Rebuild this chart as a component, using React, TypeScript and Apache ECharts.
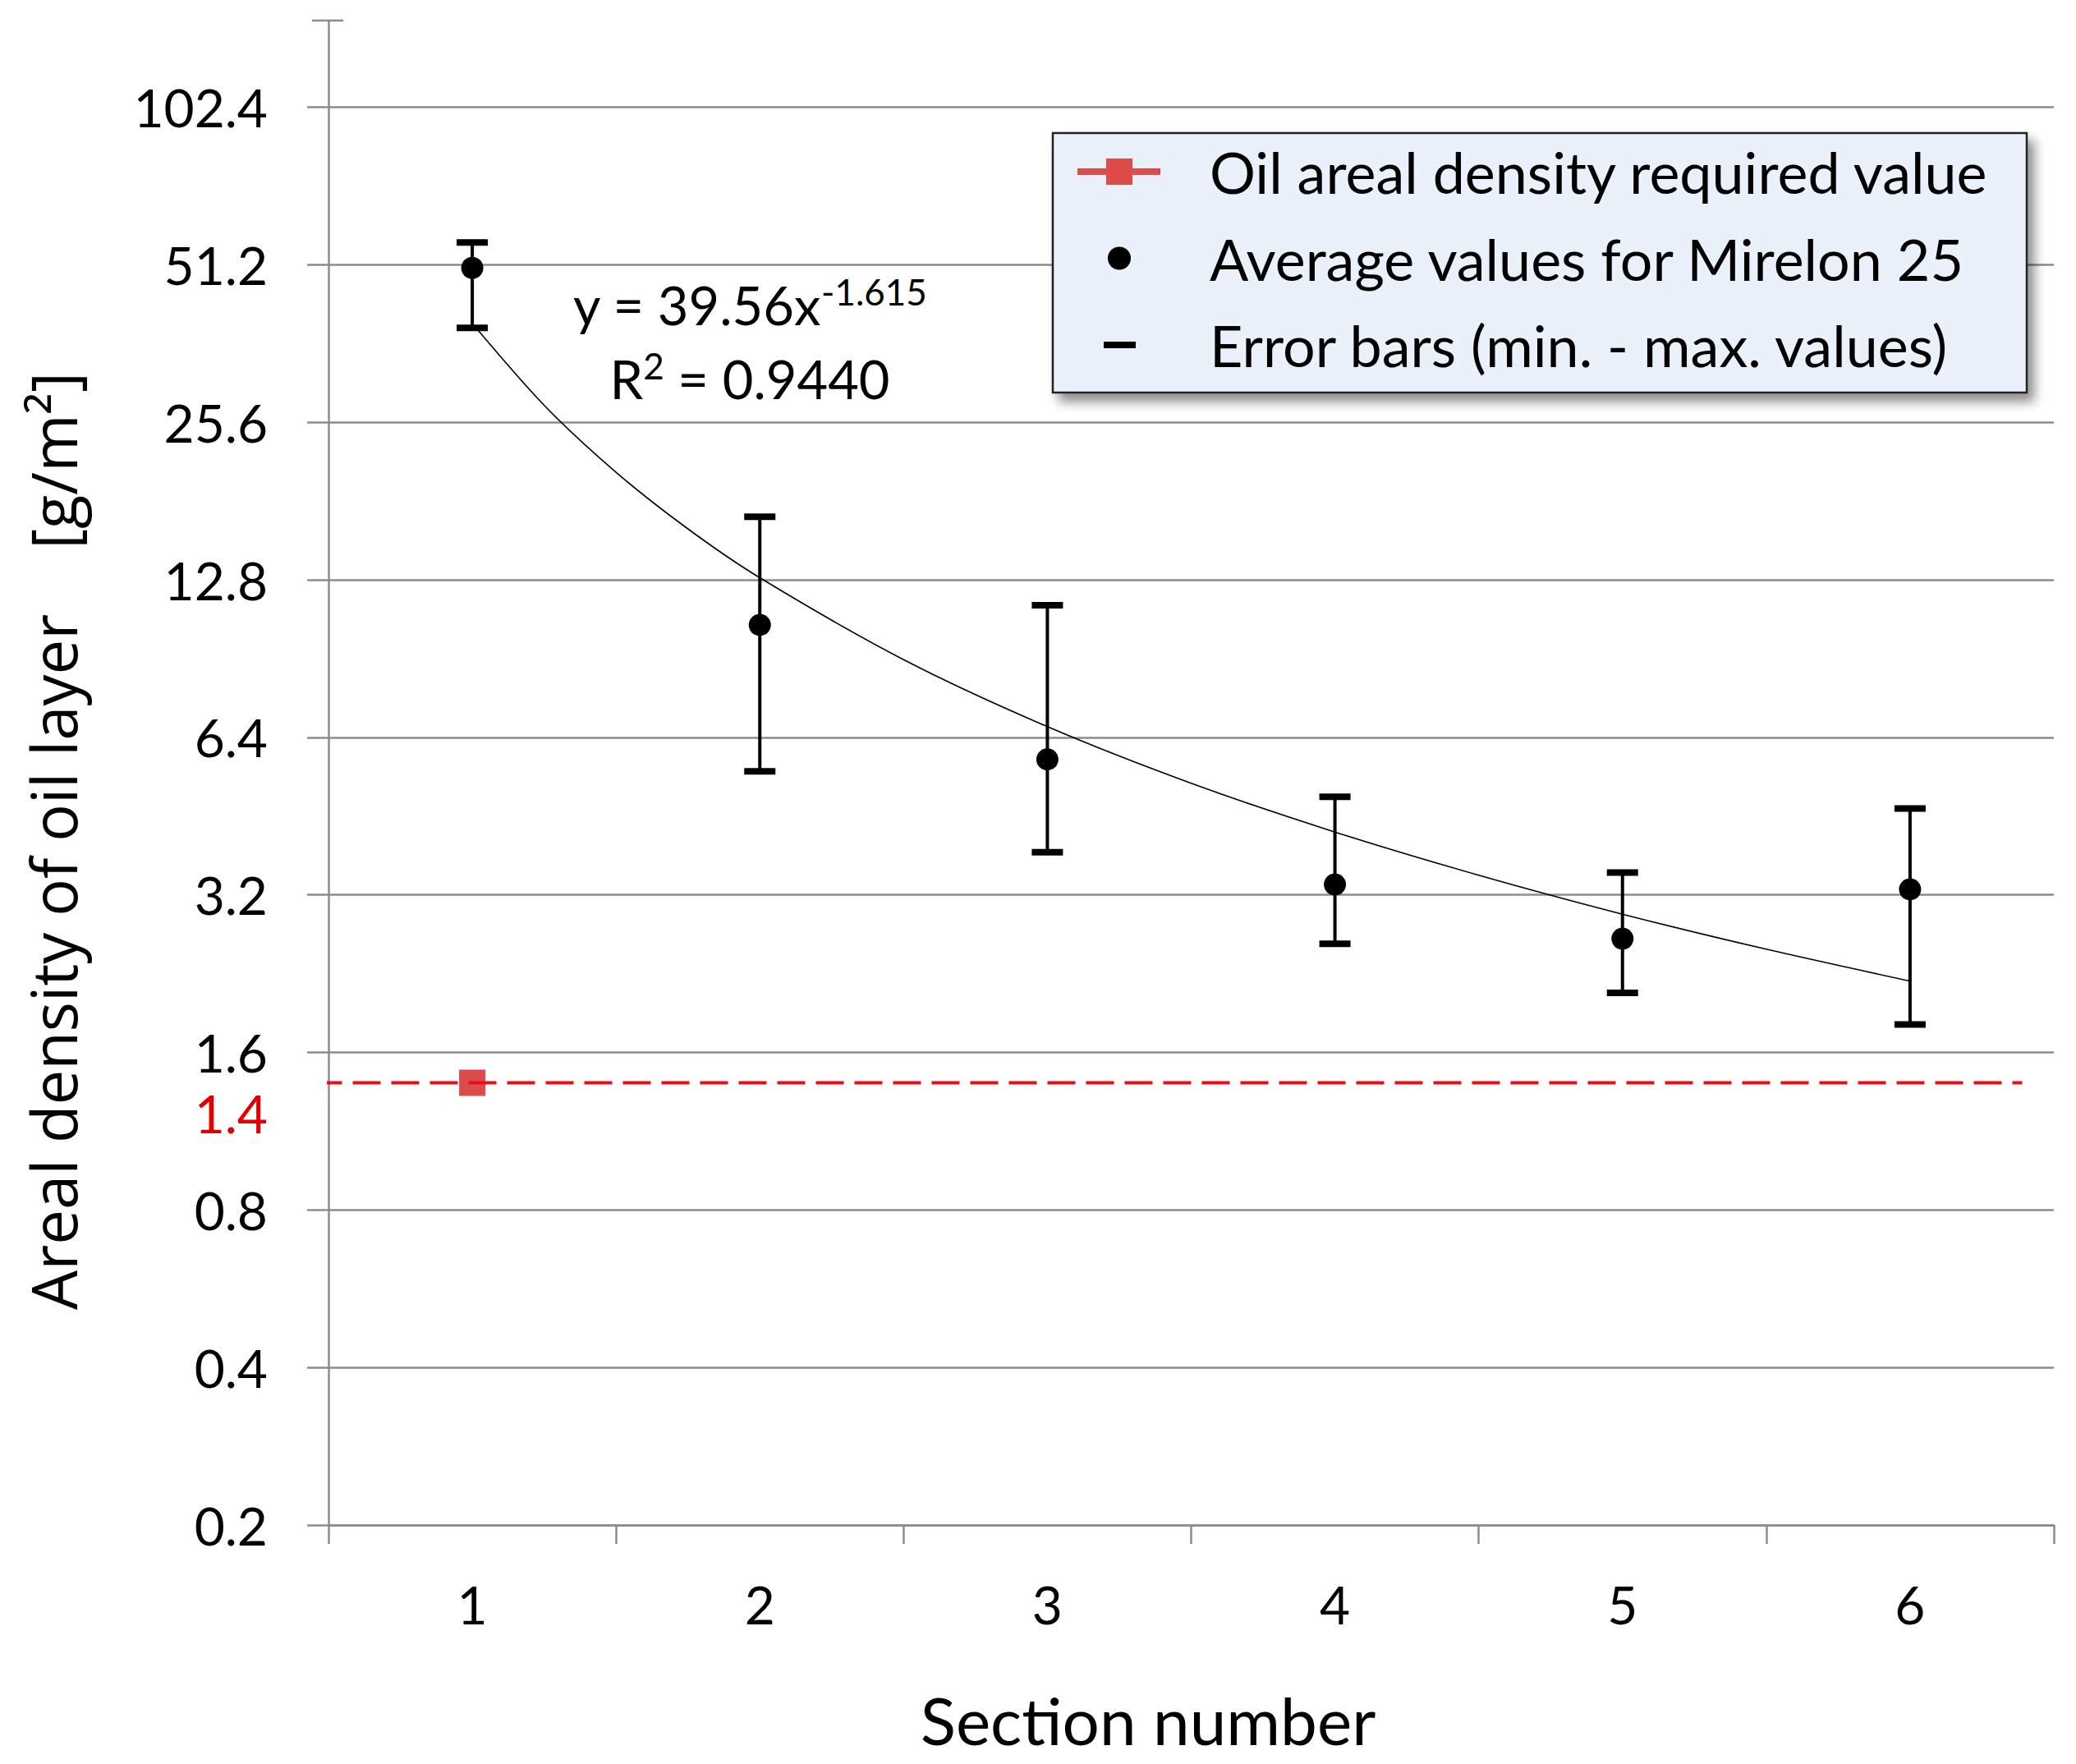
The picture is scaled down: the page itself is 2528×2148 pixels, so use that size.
import React, { useEffect, useRef } from 'react';
import * as echarts from 'echarts';

// ---- data ----
const SECTIONS = ['1', '2', '3', '4', '5', '6'];
const AVG_VALUES = [50.5, 10.5, 5.81, 3.35, 2.64, 3.28];
const MIN_VALUES = [38.8, 5.51, 3.86, 2.58, 2.08, 1.81];
const MAX_VALUES = [56.5, 16.9, 11.45, 4.93, 3.53, 4.68];
const REQUIRED_VALUE = 1.4;
const REQUIRED_SECTION = 1;
const REQUIRED_LINE_X = [0.45, 6.39];
const TREND_X = [1, 1.25, 1.5, 1.75, 2, 2.5, 3, 3.5, 4, 4.5, 5, 5.5, 6];
const TREND_Y = [39.56, 27.59, 20.55, 16.02, 12.92, 9.01, 6.71, 5.23, 4.22, 3.49, 2.94, 2.52, 2.19];
const Y_TICKS = [0.2, 0.4, 0.8, 1.6, 3.2, 6.4, 12.8, 25.6, 51.2, 102.4];
const Y_MIN = 0.2;
const Y_MAX = 150;
const NAME_REQUIRED = 'Oil areal density required value';
const NAME_AVG = 'Average values for Mirelon 25';
const NAME_ERR = 'Error bars (min. - max. values)';
const EQUATION = 'y = 39.56x';
const EQUATION_EXP = '-1.615';
const R2_LEFT = 'R';
const R2_EXP = '2';
const R2_RIGHT = ' = 0.9440';
const X_TITLE = 'Section number';
const Y_TITLE = 'Areal density of oil layer    [g/m²]';

const GRID_COLOR = '#8c8c8c';
const FONT = 'Lato';

export default function App() {
  const ref = useRef<HTMLDivElement>(null);

  useEffect(() => {
    if (!ref.current) return;
    const chart = echarts.init(ref.current, undefined, { renderer: 'svg' });

    const errData = SECTIONS.map((_, i) => [i, MIN_VALUES[i], MAX_VALUES[i]]);
    const trendData = TREND_X.map((x, i) => [x, TREND_Y[i]]);

    const supRich = {
      m: { fontSize: 65, fontFamily: FONT, fill: '#000', lineHeight: 70, verticalAlign: 'bottom' },
      s: { fontSize: 44, fontFamily: FONT, fill: '#000', lineHeight: 40, verticalAlign: 'top' },
    };

    const option: any = {
      animation: false,
      backgroundColor: '#ffffff',
      grid: {
        left: 400,
        right: 27,
        top: 25,
        bottom: 291,
        containLabel: false,
        outerBoundsMode: 'none',
      },
      xAxis: [
        {
          type: 'category',
          data: SECTIONS,
          boundaryGap: true,
          axisLine: { show: true, lineStyle: { color: GRID_COLOR, width: 2.5 } },
          axisTick: { show: true, alignWithLabel: false, length: 23, lineStyle: { color: GRID_COLOR, width: 2.5 } },
          axisLabel: { margin: 64, fontSize: 64, fontFamily: FONT, color: '#000' },
          splitLine: { show: false },
        },
        {
          type: 'value',
          min: 0.5,
          max: 6.5,
          show: false,
        },
      ],
      yAxis: {
        type: 'log',
        logBase: 2,
        min: Y_MIN,
        max: Y_MAX,
        axisLine: { show: true, lineStyle: { color: GRID_COLOR, width: 2.5 } },
        axisTick: {
          show: true,
          length: 26,
          customValues: Y_TICKS,
          lineStyle: { color: GRID_COLOR, width: 2.5 },
        },
        axisLabel: {
          customValues: [...Y_TICKS, REQUIRED_VALUE],
          margin: 74,
          fontSize: 64,
          fontFamily: FONT,
          color: '#000',
          hideOverlap: false,
          formatter: (v: number) => {
            if (Math.abs(v - REQUIRED_VALUE) < 1e-6) return '{red|' + REQUIRED_VALUE.toFixed(1) + '}';
            return String(Number(v.toFixed(1)));
          },
          rich: {
            red: { color: '#e00000', fontSize: 64, fontFamily: FONT, padding: [74, 0, 0, 0] },
          },
        },
        splitLine: { show: true, lineStyle: { color: GRID_COLOR, width: 2.5 } },
      },
      legend: {
        show: true,
        orient: 'vertical',
        left: 1312,
        top: 174,
        padding: 0,
        itemWidth: 156,
        itemHeight: 32,
        itemGap: 35.5,
        selectedMode: false,
        z: 20,
        textStyle: { fontSize: 70, fontFamily: FONT, color: '#000' },
        data: [
          { name: NAME_REQUIRED, icon: 'path://M0,0M156,32M0,12h101v8h-101zM35,0h32v32h-32z' },
          { name: NAME_AVG, icon: 'path://M0,0M156,32M37,16a14,14 0 1,0 28,0a14,14 0 1,0 -28,0z' },
          { name: NAME_ERR, icon: 'path://M0,0M156,32M32,12h39v8h-39z' },
        ],
      },
      graphic: [
        {
          type: 'rect',
          z: 10,
          shape: { x: 1282, y: 162, width: 1186, height: 316 },
          style: {
            fill: '#ebf1fa',
            stroke: '#222',
            lineWidth: 2.5,
            shadowBlur: 14,
            shadowOffsetX: 8,
            shadowOffsetY: 10,
            shadowColor: 'rgba(0,0,0,0.45)',
          },
        },
        {
          type: 'line',
          z: 5,
          shape: { x1: 380, y1: 25, x2: 418, y2: 25 },
          style: { stroke: GRID_COLOR, lineWidth: 2.5 },
        },
        {
          type: 'text',
          z: 12,
          x: 913,
          y: 368,
          style: {
            text: '{m|' + EQUATION + '}{s|' + EQUATION_EXP + '}',
            align: 'center',
            verticalAlign: 'middle',
            rich: supRich,
          },
        },
        {
          type: 'text',
          z: 12,
          x: 913,
          y: 458,
          style: {
            text: '{m|' + R2_LEFT + '}{s|' + R2_EXP + '}{m|' + R2_RIGHT + '}',
            align: 'center',
            verticalAlign: 'middle',
            rich: supRich,
          },
        },
        {
          type: 'text',
          z: 12,
          x: 1398,
          y: 2094,
          style: {
            text: X_TITLE,
            align: 'center',
            verticalAlign: 'middle',
            fontSize: 80,
            fontFamily: FONT,
            fill: '#000',
          },
        },
        {
          type: 'text',
          z: 12,
          x: 64,
          y: 1024,
          rotation: Math.PI / 2,
          style: {
            text: Y_TITLE,
            align: 'center',
            verticalAlign: 'middle',
            fontSize: 76,
            fontFamily: 'Open Sans',
            fill: '#000',
          },
        },
      ],
      series: [
        {
          name: 'required-line',
          type: 'line',
          xAxisIndex: 1,
          clip: false,
          data: REQUIRED_LINE_X.map((x) => [x, REQUIRED_VALUE]),
          showSymbol: false,
          symbol: 'none',
          lineStyle: { color: '#e3101a', width: 4, type: [34, 13] },
          z: 3,
        },
        {
          name: NAME_REQUIRED,
          type: 'scatter',
          xAxisIndex: 1,
          data: [[REQUIRED_SECTION, REQUIRED_VALUE]],
          symbol: 'rect',
          symbolSize: 32,
          itemStyle: { color: '#dd4b4b', opacity: 1 },
          z: 2,
        },
        {
          name: 'trend',
          type: 'line',
          xAxisIndex: 1,
          data: trendData,
          smooth: 0.3,
          showSymbol: false,
          symbol: 'none',
          lineStyle: { color: '#000', width: 1.6 },
          z: 3,
        },
        {
          name: NAME_ERR,
          type: 'custom',
          xAxisIndex: 0,
          data: errData,
          itemStyle: { color: '#000' },
          encode: { x: 0, y: [1, 2] },
          z: 5,
          renderItem: (params: any, api: any) => {
            const xi = api.value(0);
            const lo = api.coord([xi, api.value(1)]);
            const hi = api.coord([xi, api.value(2)]);
            const hw = 19;
            return {
              type: 'group',
              children: [
                { type: 'line', shape: { x1: lo[0], y1: lo[1], x2: hi[0], y2: hi[1] }, style: { stroke: '#000', lineWidth: 4 } },
                { type: 'line', shape: { x1: hi[0] - hw, y1: hi[1], x2: hi[0] + hw, y2: hi[1] }, style: { stroke: '#000', lineWidth: 8 } },
                { type: 'line', shape: { x1: lo[0] - hw, y1: lo[1], x2: lo[0] + hw, y2: lo[1] }, style: { stroke: '#000', lineWidth: 8 } },
              ],
            };
          },
        },
        {
          name: NAME_AVG,
          type: 'scatter',
          xAxisIndex: 0,
          data: AVG_VALUES,
          symbol: 'circle',
          symbolSize: 27,
          itemStyle: { color: '#000', opacity: 1 },
          z: 6,
        },
      ],
    };

    chart.setOption(option);
    return () => chart.dispose();
  }, []);

  return (
    <div
      ref={ref}
      style={{ position: 'fixed', left: 0, top: 0, width: 2528, height: 2148, background: '#fff' }}
    />
  );
}
